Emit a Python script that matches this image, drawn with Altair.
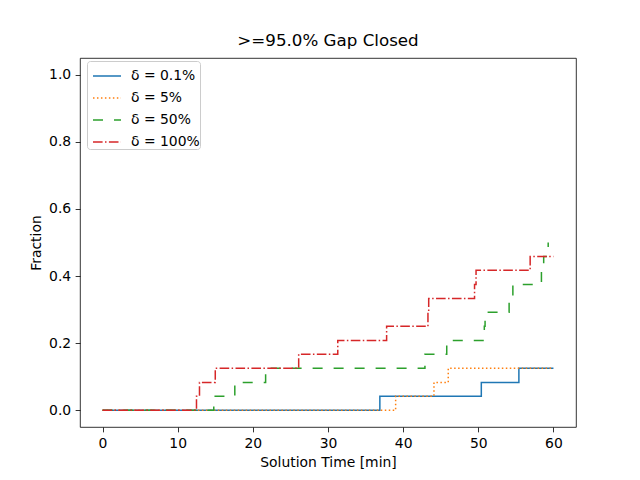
import altair as alt
import pandas as pd

series_names = ["δ = 0.1%", "δ = 5%", "δ = 50%", "δ = 100%"]
colors = ["#1f77b4", "#ff7f0e", "#2ca02c", "#d62728"]
dashes = [[1, 0], [1.5, 2.475], [10, 11], [9.6, 2.4, 1.5, 2.4]]

t_01 = [0, 36.9, 50.4, 55.4, 60]
f_01 = [0, 0.042, 0.083, 0.125, 0.125]

t_5 = [0, 39.0, 44.1, 46.0, 60]
f_5 = [0, 0.042, 0.083, 0.125, 0.125]

t_50 = [0, 14.8, 17.6, 21.7, 42.9, 45.8, 50.8, 50.9, 54.1, 54.6, 58.4, 58.7, 59.3]
f_50 = [0, 0.042, 0.083, 0.125, 0.167, 0.208, 0.25, 0.292, 0.333, 0.375, 0.417, 0.458, 0.5]

t_100 = [0, 12.5, 12.9, 15.0, 26.1, 31.3, 37.8, 43.3, 43.4, 49.5, 49.7, 56.9, 60]
f_100 = [0, 0.042, 0.083, 0.125, 0.167, 0.208, 0.25, 0.292, 0.333, 0.375, 0.417, 0.458, 0.458]

rows = []
for name, ts, fs in zip(series_names, [t_01, t_5, t_50, t_100], [f_01, f_5, f_50, f_100]):
    for i, (t, f) in enumerate(zip(ts, fs)):
        rows.append({"series": name, "t": t, "f": f, "i": i})
df = pd.DataFrame(rows)

FONT = "DejaVu Sans"

legend = alt.Legend(
    title=None, orient="none", legendX=7, legendY=3, padding=0,
    fillColor="white", strokeColor="#cccccc", cornerRadius=3,
    symbolType="stroke", symbolSize=784, symbolStrokeWidth=1.5, symbolOffset=5,
    labelFontSize=13.9, labelFont=FONT, labelOffset=9, rowPadding=0,
    labelColor="black",
)

chart = alt.Chart(df).mark_line(interpolate="step-after", strokeWidth=1.5, strokeCap="butt").encode(
    x=alt.X("t:Q", scale=alt.Scale(domain=[-3, 63], nice=False, zero=False),
            axis=alt.Axis(title="Solution Time [min]", values=[0, 10, 20, 30, 40, 50, 60], format="d")),
    y=alt.Y("f:Q", scale=alt.Scale(domain=[-0.05, 1.05], nice=False, zero=False),
            axis=alt.Axis(title="Fraction", values=[0, 0.2, 0.4, 0.6, 0.8, 1.0], format=".1f")),
    color=alt.Color("series:N", scale=alt.Scale(domain=series_names, range=colors), legend=legend, sort=series_names),
    strokeDash=alt.StrokeDash("series:N", scale=alt.Scale(domain=series_names, range=dashes), legend=legend, sort=series_names),
    order="i:Q",
).properties(
    width=496, height=369,
    title=alt.Title(">=95.0% Gap Closed", fontSize=16.7, font=FONT, fontWeight="normal", offset=8, anchor="middle", color="black"),
    autosize=alt.AutoSizeParams(type="none"),
    padding={"left": 72, "top": 50, "right": 56, "bottom": 45},
).configure_view(
    stroke="black", strokeWidth=0.8
).configure_axis(
    domain=False, grid=False, ticks=True, tickSize=4.86, tickWidth=0.8, tickColor="black",
    labelFontSize=13.9, labelFont=FONT, labelColor="black", labelPadding=4.5,
    titleFontSize=13.9, titleFont=FONT, titleFontWeight="normal", titleColor="black", titlePadding=5,
    labelFlush=False, labelOverlap=False,
)

chart.save("out.html", embed_options={"renderer": "svg", "actions": False})
